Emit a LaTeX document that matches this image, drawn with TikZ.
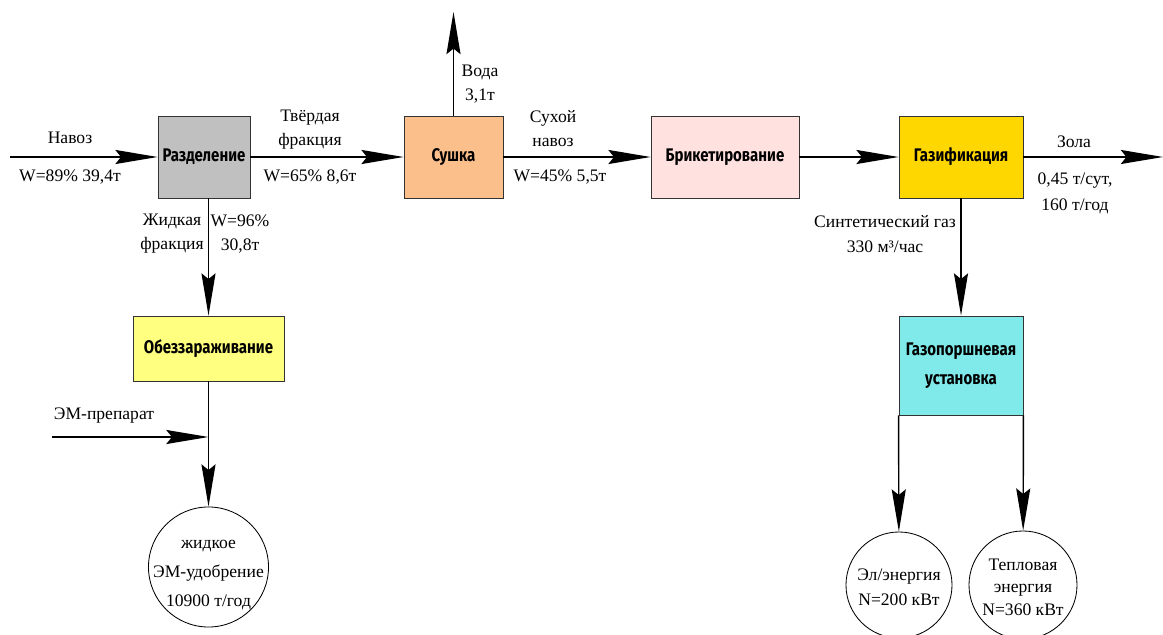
\documentclass[tikz,border=0pt]{standalone}
\usepackage{fontspec}
\setmainfont{Liberation Serif}
\newfontfamily\boxfont[FakeStretch=0.82]{Fira Sans}
\usetikzlibrary{arrows.meta}
\definecolor{cRazd}{HTML}{C0C0C0}
\definecolor{cSush}{HTML}{FBBF8C}
\definecolor{cBrik}{HTML}{FFE2E0}
\definecolor{cGaz}{HTML}{FFD700}
\definecolor{cObez}{HTML}{FFFF80}
\definecolor{cGpu}{HTML}{80EAEA}
\begin{document}
\begin{tikzpicture}[x=0.025cm,y=-0.025cm,
  box/.style={draw=black!80, line width=0.6pt, inner sep=0pt, align=center,
    font=\boxfont\bfseries\fontsize{13}{21}\selectfont},
  circ/.style={draw, circle, line width=0.6pt, inner sep=0pt},
  flow/.style={line width=1pt, -{Stealth[length=30pt,width=10pt,inset=4pt]}},
  lab/.style={inner sep=0pt, align=center, font=\fontsize{12.5}{17}\selectfont}
]
\useasboundingbox (0,0) rectangle (1163,635);
% boxes
\node[box, fill=cRazd, minimum width=2.3cm, minimum height=2.05cm] (razd) at (204,157) {Разделение};
\node[box, fill=cSush, minimum width=2.475cm, minimum height=2.05cm] (sush) at (453.5,157) {Сушка};
\node[box, fill=cBrik, minimum width=3.7cm, minimum height=2.05cm] (brik) at (725,157) {Брикетирование};
\node[box, fill=cGaz, minimum width=3.1cm, minimum height=2.05cm] (gaz) at (961,157) {Газификация};
\node[box, fill=cObez, minimum width=3.775cm, minimum height=1.625cm] (obez) at (208.5,348.5) {Обеззараживание};
\node[box, fill=cGpu, minimum width=3.1cm, minimum height=2.475cm] (gpu) at (961,365.5) {Газопоршневая\\установка};
% circles
\node[circ, minimum size=3.0cm] (fert) at (208.5,567) {};
\node[circ, minimum size=2.65cm] (el) at (899,585) {};
\node[circ, minimum size=2.7cm] (heat) at (1023,585) {};
\node[lab, font=\fontsize{12.5}{20.5}\selectfont] (tfert) at (fert.center) [yshift=-0.2cm] {жидкое\\ЭМ-удобрение\\10900 т/год};
\node[lab, font=\fontsize{12.5}{18}\selectfont] (tel) at (el.center) [yshift=-0.05cm] {Эл/энергия\\N=200 кВт};
\node[lab, font=\fontsize{12.5}{16}\selectfont] (theat) at (heat.center) [yshift=-0.05cm] {Тепловая\\энергия\\N=360 кВт};
% free ends
\coordinate (navin) at (10,157);
\coordinate (zolaend) at (1163,157);
\coordinate (vodaend) at (453.5,12);
\coordinate (emin) at (52,437);
\coordinate (emj) at (208.5,437);
% connectors
\draw[flow] (navin) -- (razd);
\draw[flow] (razd) -- (sush);
\draw[flow] (sush) -- (brik);
\draw[flow] (brik) -- (gaz);
\draw[flow] (gaz) -- (zolaend);
\draw[flow] (sush) -- (vodaend);
\draw[flow] (razd.south -| obez) -- (obez);
\draw[flow] (obez) -- (fert);
\draw[flow] (emin) -- (emj);
\draw[flow] (gaz) -- (gpu);
\draw[flow] (gpu.south west) -- (el);
\draw[flow] (gpu.south east) -- (heat);
% labels
\node[lab] (lnav) at (70,138) {Навоз};
\node[lab] (lnavw) at (70,177) {W=89\% 39,4т};
\node[lab] (ltv) at (310,130) {Твёрдая\\фракция};
\node[lab] (ltvw) at (310,177) {W=65\% 8,6т};
\node[lab] (lzh) at (172,234) {Жидкая\\фракция};
\node[lab] (lzhw) at (240,234) {W=96\%\\30,8т};
\node[lab] (lvoda) at (480,84) {Вода\\3,1т};
\node[lab] (lsuh) at (553,129) {Сухой\\навоз};
\node[lab] (lsuhw) at (560,177) {W=45\% 5,5т};
\node[lab] (lzola) at (1074,142) {Зола};
\node[lab, font=\fontsize{12.5}{18.5}\selectfont] (lzolaw) at (1075,193) {0,45 т/сут,\\160 т/год};
\node[lab, font=\fontsize{12.5}{18}\selectfont] (lsint) at (885,234) {Синтетический газ\\330 м³/час};
\node[lab] (lem) at (104,416) {ЭМ-препарат};
\end{tikzpicture}
\end{document}
